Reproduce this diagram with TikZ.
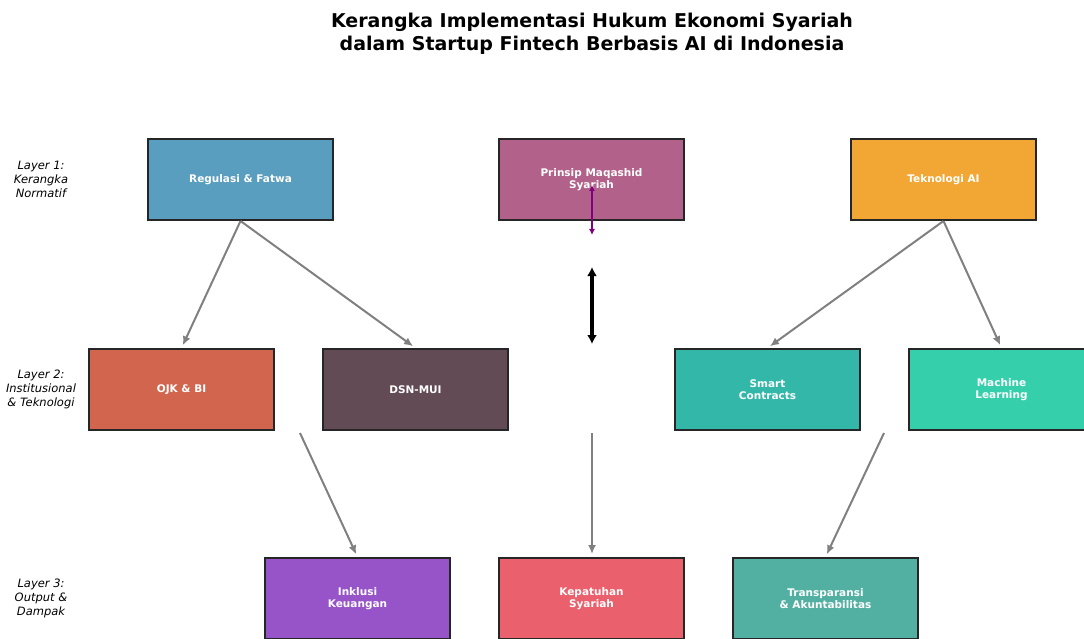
\documentclass[tikz,border=0pt]{standalone}
\usepackage{fontspec}
\setmainfont{DejaVu Sans}
\usetikzlibrary{positioning}
\usetikzlibrary{calc}
\usetikzlibrary{arrows.meta}
\tikzset{>={Latex[length=9pt, width=8pt]}}
\definecolor{boxline}{HTML}{262626}
\definecolor{flowgray}{HTML}{808080}
\definecolor{regcol}{HTML}{5A9EBF}
\definecolor{maqcol}{HTML}{B2628A}
\definecolor{tekcol}{HTML}{F2A633}
\definecolor{ojkcol}{HTML}{D1654D}
\definecolor{dsncol}{HTML}{624B54}
\definecolor{smartcol}{HTML}{32B7A8}
\definecolor{mlcol}{HTML}{36CFAC}
\definecolor{inklcol}{HTML}{9654C8}
\definecolor{kepcol}{HTML}{EA606C}
\definecolor{transcol}{HTML}{52B0A2}
\definecolor{linkpurple}{HTML}{800080}
\tikzset{box/.style={rectangle, draw=boxline, line width=2pt, fill=#1,
    minimum width=185pt, minimum height=81pt, text=white, align=center,
    font=\fontsize{10.5}{12}\selectfont\bfseries}}
\tikzset{layer/.style={align=center, font=\fontsize{11.5}{14}\selectfont\itshape}}
\tikzset{flow/.style={->, line width=2pt, draw=flowgray, shorten >=3pt}}

\begin{document}
\begin{tikzpicture}[x=1pt, y=-1pt]
    \clip (0,0) rectangle (1084,639);
    \node [font=\fontsize{19}{23}\selectfont\bfseries, align=center] (title) at (592,33.5)
        {Kerangka Implementasi Hukum Ekonomi Syariah\\dalam Startup Fintech Berbasis AI di Indonesia};

    % ------- Layer 1 ------- %
    \node [layer] (l1) at (41,179) {Layer 1:\\Kerangka\\Normatif};
    \node [box=regcol] (reg) at (240.5,179.5) {Regulasi \& Fatwa};
    \node [box=maqcol] (maq) at (591.5,179.5) {Prinsip Maqashid\\Syariah};
    \node [box=tekcol] (tek) at (943.5,179.5) {Teknologi AI};

    % ------- Layer 2 ------- %
    \node [layer] (l2) at (41,389) {Layer 2:\\Institusional\\\& Teknologi};
    \node [box=ojkcol] (ojk) at (181.5,389.5) {OJK \& BI};
    \node [box=dsncol] (dsn) at (415.5,389.5) {DSN-MUI};
    \node [box=smartcol] (smart) at (767.5,389.5) {Smart\\Contracts};
    \node [box=mlcol] (ml) at (1001.5,389.5) {Machine\\Learning};

    % ------- Layer 3 ------- %
    \node [layer] (l3) at (41,598) {Layer 3:\\Output \&\\Dampak};
    \node [box=inklcol] (inkl) at (357.5,598.5) {Inklusi\\Keuangan};
    \node [box=kepcol] (kep) at (591.5,598.5) {Kepatuhan\\Syariah};
    \node [box=transcol] (trans) at (825.5,598.5) {Transparansi\\\& Akuntabilitas};

    % Free ends of the connectors.
    \coordinate (s1) at (300,433);
    \coordinate (s2) at (592,433);
    \coordinate (s3) at (884,433);
    \coordinate (p1) at (592,185);
    \coordinate (p2) at (592,235);
    \coordinate (b1) at (592,267);
    \coordinate (b2) at (592,344);

    % Layer 1 to layer 2.
    \draw [flow] (reg.south) -- (ojk.north);
    \draw [flow] (reg.south) -- (dsn.north);
    \draw [flow] (tek.south) -- (smart.north);
    \draw [flow] (tek.south) -- (ml.north);

    % Layer 2 to layer 3.
    \draw [flow] (s1) -- (inkl.north);
    \draw [flow] (s2) -- (s2 |- kep.north);
    \draw [flow] (s3) -- (trans.north);

    % The links in the middle.
    \draw [{Latex[length=6pt, width=6pt]}-{Latex[length=6pt, width=6pt]},
        line width=1.8pt, draw=linkpurple] (p1) -- (p2);
    \draw [{Latex[length=9pt, width=10pt]}-{Latex[length=9pt, width=10pt]},
        line width=3.5pt, draw=black] (b1) -- (b2);
\end{tikzpicture}
\end{document}
